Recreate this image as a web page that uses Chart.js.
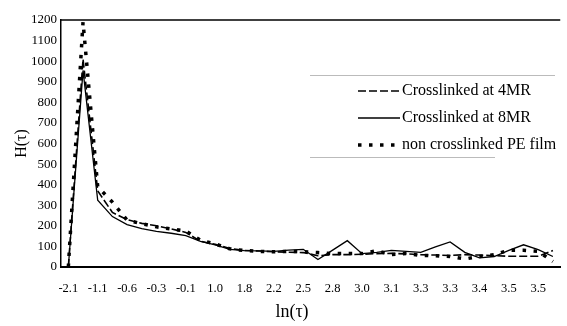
<!DOCTYPE html>
<html>
<head>
<meta charset="utf-8">
<script src="https://cdn.jsdelivr.net/npm/chart.js@4"></script>
<style>
  html, body { margin: 0; padding: 0; background: #fff; }
  #wrap { width: 567px; height: 326px; }
</style>
</head>
<body>
<div id="wrap"><canvas id="chart" width="567" height="326"></canvas></div>
<script>
// tick labels shown under every second category
const tickLabels = ['-2.1', '-1.1', '-0.6', '-0.3', '-0.1', '1.0', '1.8', '2.2', '2.5', '2.8', '3.0', '3.1', '3.3', '3.3', '3.4', '3.5', '3.5'];
const categories = tickLabels.flatMap((t) => [t, '']);

const seriesNames = ['Crosslinked at 4MR', 'Crosslinked at 8MR', 'non crosslinked PE film'];
const cross4MR = [0, 1010, 370, 265, 230, 212, 200, 185, 168, 125, 110, 90, 80, 78, 74, 72, 70, 55, 60, 60, 62, 65, 66, 64, 60, 58, 56, 60, 58, 55, 52, 52, 52, 80];
const cross8MR = [0, 955, 324, 245, 206, 186, 173, 164, 152, 125, 108, 86, 80, 78, 76, 82, 86, 36, 82, 128, 65, 71, 81, 76, 71, 98, 122, 71, 44, 51, 81, 108, 84, 51];
const nonCross = [0, 1190, 390, 315, 228, 210, 195, 185, 175, 130, 112, 88, 80, 76, 74, 76, 74, 70, 65, 65, 65, 79, 60, 65, 56, 55, 51, 39, 51, 60, 81, 81, 76, 27];

const yTicks = { min: 0, max: 1200, step: 100 };

const serif = '"Liberation Serif", "Times New Roman", serif';

const decor = {
  id: 'decor',
  afterDraw(chart) {
    const ctx = chart.ctx;
    const a = chart.chartArea;
    ctx.save();
    // top frame line
    ctx.strokeStyle = '#000';
    ctx.lineWidth = 1.5;
    ctx.beginPath();
    ctx.moveTo(a.left, a.top);
    ctx.lineTo(a.right, a.top);
    ctx.stroke();

    // x axis title
    ctx.fillStyle = '#000';
    ctx.font = '18px ' + serif;
    ctx.textAlign = 'center';
    ctx.textBaseline = 'middle';
    ctx.fillText('ln(\u03c4)', 292, 312);

    // legend box (faint edges)
    ctx.strokeStyle = '#bbb';
    ctx.lineWidth = 1;
    ctx.beginPath();
    ctx.moveTo(310, 75.5); ctx.lineTo(555, 75.5);
    ctx.moveTo(310, 157.5); ctx.lineTo(495, 157.5);
    ctx.stroke();

    // legend entries
    ctx.font = '16px ' + serif;
    ctx.textAlign = 'left';
    chart.data.datasets.forEach((ds, i) => {
      const y = 91 + i * 27;
      ctx.strokeStyle = ds.borderColor;
      ctx.lineWidth = ds.borderWidth;
      ctx.setLineDash(ds.borderDash || []);
      ctx.beginPath();
      ctx.moveTo(358, y);
      ctx.lineTo(400, y);
      ctx.stroke();
      ctx.setLineDash([]);
      ctx.fillText(ds.label, 402, y);
    });
    ctx.restore();
  },
};

new Chart(document.getElementById('chart'), {
  type: 'line',
  data: {
    labels: categories,
    datasets: [
      {
        label: seriesNames[0],
        data: cross4MR,
        borderColor: '#000',
        borderWidth: 1.6,
        borderDash: [8, 3],
      },
      {
        label: seriesNames[1],
        data: cross8MR,
        borderColor: '#000',
        borderWidth: 1.3,
      },
      {
        label: seriesNames[2],
        data: nonCross,
        borderColor: '#000',
        borderWidth: 3.5,
        borderDash: [3.5, 7.5],
      },
    ],
  },
  options: {
    responsive: false,
    animation: false,
    layout: { padding: { left: 0, top: 20, right: 6, bottom: 0 } },
    elements: {
      point: { radius: 0 },
      line: { tension: 0, fill: false },
    },
    plugins: {
      legend: { display: false },
      tooltip: { enabled: false },
    },
    scales: {
      x: {
        offset: true,
        grid: { display: false, drawTicks: false },
        border: { color: '#000', width: 2 },
        ticks: {
          autoSkip: false,
          maxRotation: 0,
          padding: 14,
          color: '#000',
          font: { family: serif, size: 12.5 },
        },
        afterFit: (s) => { s.height = 59; },
      },
      y: {
        min: yTicks.min,
        max: yTicks.max,
        grid: { display: false, drawTicks: false },
        border: { color: '#000', width: 1.5 },
        ticks: {
          stepSize: yTicks.step,
          padding: 4,
          color: '#000',
          font: { family: serif, size: 13 },
          callback: (v) => String(v),
        },
        title: {
          display: true,
          text: 'H(\u03c4)',
          color: '#000',
          font: { family: serif, size: 16 },
          padding: { top: 12, bottom: 0 },
        },
        afterFit: (s) => { s.width = 61; },
      },
    },
  },
  plugins: [decor],
});
</script>
</body>
</html>
